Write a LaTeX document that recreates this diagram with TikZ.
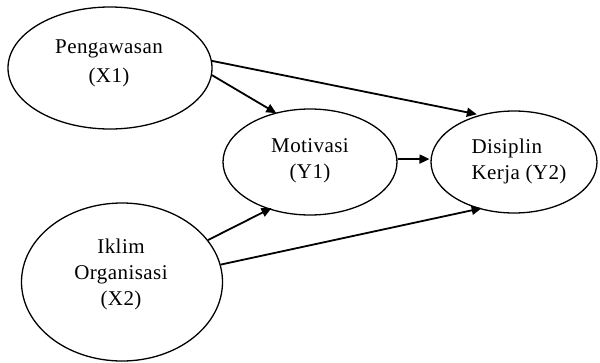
\documentclass[tikz,border=0pt]{standalone}
\usepackage{fontspec}
\setmainfont[LetterSpace=2]{Liberation Serif}
\usetikzlibrary{shapes.geometric,arrows.meta}
\begin{document}
\begin{tikzpicture}[x=1pt,y=-1pt,
  var/.style={draw,ellipse,line width=1.3pt,inner sep=0pt},
  lbl/.style={align=center,inner sep=0pt,font=\fontsize{21}{26}\selectfont},
  conn/.style={line width=1.8pt,-{Triangle[length=10pt,width=9pt]}}]
\useasboundingbox (0,0) rectangle (600,362);
\node[var,minimum width=204pt,minimum height=122pt] (x1) at (110,68) {};
\node[var,minimum width=174pt,minimum height=106pt] (y1) at (310,162) {};
\node[var,minimum width=166pt,minimum height=102pt] (y2) at (514,162) {};
\node[var,minimum width=201pt,minimum height=158pt] (x2) at (122,282) {};
\node[lbl,font=\fontsize{21}{29}\selectfont] (tx1) at (109,63) {Pengawasan\\(X1)};
\node[lbl] (ty1) at (310,161) {Motivasi\\(Y1)};
\node[lbl,align=left] (ty2) at (519,161) {Disiplin\\Kerja (Y2)};
\node[lbl] (tx2) at (121,274) {Iklim\\Organisasi\\(X2)};
\draw[conn,shorten >=-1pt] (x1.-4.5) -- (y1.125);
\draw[conn,shorten >=3pt] (x1.4.5) -- (y2.126.5);
\draw[conn,shorten >=1pt] (y1.2) -- (y2.178);
\draw[conn,shorten >=-3pt] (x2.26.6) -- (y1.229);
\draw[conn,shorten >=-3pt] (x2.10) -- (y2.233.5);
\end{tikzpicture}
\end{document}
